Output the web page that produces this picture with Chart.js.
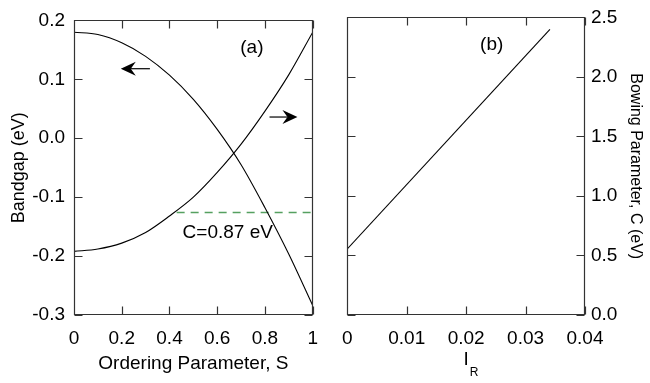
<!DOCTYPE html>
<html><head><meta charset="utf-8">
<script src="https://cdn.jsdelivr.net/npm/chart.js@4/dist/chart.umd.min.js"></script>
<style>
html,body{margin:0;padding:0;background:#fff;}
#wrap{position:relative;width:650px;height:383px;overflow:hidden;}
#ca{position:absolute;left:0;top:0;}
#cb{position:absolute;left:330px;top:0;}
</style></head><body>
<div id="wrap"><canvas id="ca" width="330" height="383"></canvas><canvas id="cb" width="320" height="383"></canvas></div>
<script>
// ---- data ----
const orderS   = [0, 0.1, 0.2, 0.3, 0.4, 0.5, 0.6, 0.7, 0.8, 0.9, 1.0];
const bandgap  = [0.180, 0.176, 0.162, 0.139, 0.107, 0.066, 0.015, -0.045, -0.118, -0.197, -0.284];
const bowingC  = [0.54, 0.56, 0.61, 0.70, 0.84, 1.00, 1.21, 1.45, 1.73, 2.04, 2.40];
const ratioI   = [0, 0.0341];
const bowingI  = [0.555, 2.40];
const cTarget  = 0.87;
const cTargetS = [0.43, 1.0];
const sTicks   = [0, 0.2, 0.4, 0.6, 0.8, 1];
const egTicks  = [-0.3, -0.2, -0.1, 0, 0.1, 0.2];
const iTicks   = [0, 0.01, 0.02, 0.03, 0.04];
const cTicks   = [0, 0.5, 1.0, 1.5, 2.0, 2.5];

const FONT = "'Liberation Sans', Arial, sans-serif";
const AX = '#333';
const GREEN = '#55a060';

const pts = (xs, ys) => xs.map((x, i) => ({x, y: ys[i]}));
const setTicks = arr => s => { s.ticks = arr.map(v => ({value: v})); };

// frame + inward ticks on all four sides
const frameTicks = {
  id: 'frameTicks',
  afterDraw(chart, args, o) {
    const {ctx, chartArea: a} = chart;
    const xs = chart.scales[o.x], ys = chart.scales[o.y];
    const L = Math.round(a.left) + 0.5, R = Math.round(a.right) - 0.5;
    const T = Math.round(a.top) + 0.5, B = Math.round(a.bottom) - 0.5;
    ctx.save();
    ctx.strokeStyle = AX; ctx.lineWidth = 1.2;
    ctx.beginPath();
    ctx.rect(L, T, R - L, B - T);
    const len = 8;
    xs.ticks.forEach(t => {
      const p = Math.round(xs.getPixelForValue(t.value)) + 0.5;
      ctx.moveTo(p, B); ctx.lineTo(p, B - len);
      ctx.moveTo(p, T); ctx.lineTo(p, T + len);
    });
    ys.ticks.forEach(t => {
      const p = Math.round(ys.getPixelForValue(t.value)) + 0.5;
      ctx.moveTo(L, p); ctx.lineTo(L + len, p);
      ctx.moveTo(R, p); ctx.lineTo(R - len, p);
    });
    ctx.stroke();
    ctx.restore();
  }
};

// annotations: arrows and text, placed in data coordinates
function drawArrow(ctx, x0, y0, x1, y1) {
  const ang = Math.atan2(y1 - y0, x1 - x0);
  const hl = 15, hw = 7, notch = 10;
  const c = Math.cos(ang), s = Math.sin(ang);
  ctx.beginPath();
  ctx.moveTo(x0, y0);
  ctx.lineTo(x1 - c * notch, y1 - s * notch);
  ctx.stroke();
  ctx.beginPath();
  ctx.moveTo(x1, y1);
  ctx.lineTo(x1 - c * hl - s * hw, y1 - s * hl + c * hw);
  ctx.lineTo(x1 - c * notch, y1 - s * notch);
  ctx.lineTo(x1 - c * hl + s * hw, y1 - s * hl - c * hw);
  ctx.closePath();
  ctx.fill();
}

const notes = {
  id: 'notes',
  afterDatasetsDraw(chart, args, o) {
    const {ctx} = chart;
    ctx.save();
    ctx.fillStyle = '#000'; ctx.strokeStyle = '#000'; ctx.lineWidth = 1.2;
    (o.arrows || []).forEach(ar => {
      const xs = chart.scales[ar.xAxis], ys = chart.scales[ar.yAxis];
      drawArrow(ctx, xs.getPixelForValue(ar.from[0]), ys.getPixelForValue(ar.from[1]),
                     xs.getPixelForValue(ar.to[0]), ys.getPixelForValue(ar.to[1]));
    });
    (o.texts || []).forEach(t => {
      const xs = chart.scales[t.xAxis], ys = chart.scales[t.yAxis];
      ctx.font = t.size + 'px ' + FONT;
      ctx.textAlign = t.align; ctx.textBaseline = 'middle';
      ctx.fillText(t.text, xs.getPixelForValue(t.x), ys.getPixelForValue(t.y));
    });
    if (o.sub) {
      const a = chart.chartArea;
      ctx.font = '19px ' + FONT;
      const w = ctx.measureText(o.sub.main).width;
      ctx.font = o.sub.size + 'px ' + FONT;
      ctx.textAlign = 'left'; ctx.textBaseline = 'alphabetic';
      ctx.fillText(o.sub.text, (a.left + a.right) / 2 + w / 2 + 1, o.sub.y);
    }
    ctx.restore();
  }
};

const tickFont = {family: FONT, size: 19};

new Chart(document.getElementById('ca'), {
  type: 'line',
  data: {
    datasets: [
      {data: pts(orderS, bandgap), yAxisID: 'y', borderColor: '#000', borderWidth: 1.1,
       pointRadius: 0, cubicInterpolationMode: 'monotone'},
      {data: pts(orderS, bowingC), yAxisID: 'yC', borderColor: '#000', borderWidth: 1.1,
       pointRadius: 0, cubicInterpolationMode: 'monotone'},
      {data: pts(cTargetS, [cTarget, cTarget]), yAxisID: 'yC', borderColor: GREEN, borderWidth: 1.5,
       borderDash: [8, 6], pointRadius: 0}
    ]
  },
  options: {
    responsive: false, animation: false, events: [],
    layout: {padding: {left: 0, top: 15, right: 12, bottom: 0}},
    plugins: {
      legend: {display: false}, tooltip: {enabled: false},
      frameTicks: {x: 'x', y: 'y'},
      notes: {
        arrows: [
          {xAxis: 'x', yAxis: 'y', from: [0.318, 0.118], to: [0.196, 0.118]},
          {xAxis: 'x', yAxis: 'y', from: [0.819, 0.036], to: [0.936, 0.036]}
        ],
        texts: [
          {xAxis: 'x', yAxis: 'y', x: 0.745, y: 0.153, text: '(a)', size: 19, align: 'center'},
          {xAxis: 'x', yAxis: 'y', x: 0.455, y: -0.160, text: 'C=0.87 eV', size: 19, align: 'left'}
        ]
      }
    },
    scales: {
      x: {type: 'linear', position: 'bottom', min: 0, max: 1,
          afterBuildTicks: setTicks(sTicks),
          afterFit: s => { s.height = 68; },
          grid: {display: false, drawTicks: false}, border: {display: false},
          ticks: {font: tickFont, color: '#000', padding: 12, maxRotation: 0,
                  callback: v => v === 0 ? '0' : (v === 1 ? '1' : v.toFixed(1))},
          title: {display: true, text: 'Ordering Parameter, S', color: '#000',
                  font: {family: FONT, size: 19}, padding: {top: 0, bottom: 8}}},
      y: {type: 'linear', position: 'left', min: -0.3, max: 0.2,
          afterBuildTicks: setTicks(egTicks),
          afterFit: s => { s.width = 74; },
          grid: {display: false, drawTicks: false}, border: {display: false},
          ticks: {font: tickFont, color: '#000', padding: 9,
                  callback: v => v.toFixed(1)},
          title: {display: true, text: 'Bandgap (eV)', color: '#000',
                  font: {family: FONT, size: 18}, padding: {top: 8, bottom: 0}}},
      yC: {type: 'linear', display: false, min: 0, max: 2.5}
    }
  },
  plugins: [frameTicks, notes]
});

new Chart(document.getElementById('cb'), {
  type: 'line',
  data: {
    datasets: [
      {data: pts(ratioI, bowingI), yAxisID: 'yR', borderColor: '#000', borderWidth: 1.1, pointRadius: 0}
    ]
  },
  options: {
    responsive: false, animation: false, events: [],
    layout: {padding: {left: 11, top: 15, right: 0, bottom: 0}},
    plugins: {
      legend: {display: false}, tooltip: {enabled: false},
      frameTicks: {x: 'x', y: 'yR'},
      notes: {
        texts: [
          {xAxis: 'x', yAxis: 'yR', x: 0.0243, y: 2.27, text: '(b)', size: 19, align: 'center'}
        ],
        sub: {main: 'I', text: 'R', size: 12, y: 376}
      }
    },
    scales: {
      x: {type: 'linear', position: 'bottom', min: 0, max: 0.04,
          afterBuildTicks: setTicks(iTicks),
          afterFit: s => { s.height = 68; },
          grid: {display: false, drawTicks: false}, border: {display: false},
          ticks: {font: tickFont, color: '#000', padding: 12, maxRotation: 0,
                  callback: v => v === 0 ? '0' : v.toFixed(2)},
          title: {display: true, text: 'I', color: '#000',
                  font: {family: FONT, size: 19}, padding: {top: 0, bottom: 12}}},
      yR: {type: 'linear', position: 'right', min: 0, max: 2.5,
          afterBuildTicks: setTicks(cTicks),
          afterFit: s => { s.width = 65; },
          grid: {display: false, drawTicks: false}, border: {display: false},
          ticks: {font: tickFont, color: '#000', padding: 6,
                  callback: v => v.toFixed(1)},
          title: {display: true, text: 'Bowing Parameter, C (eV)', color: '#000',
                  font: {family: FONT, size: 16}, padding: {top: 5, bottom: 0}}}
    }
  },
  plugins: [frameTicks, notes]
});
</script>
</body></html>
